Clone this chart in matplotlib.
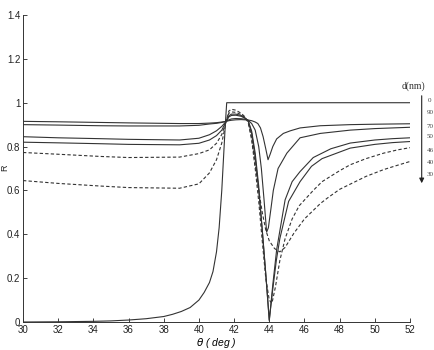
import matplotlib
matplotlib.use("Agg")
import matplotlib.pyplot as plt

# reflectivity curves, d = film thickness (nm)
left_x = [30, 32, 34.4, 36, 38.9, 40, 40.6, 41.0, 41.3, 41.55,
          41.7, 41.85, 42.1, 42.4, 42.6, 42.8]

x_d0 = [30, 32, 34, 35, 36, 37, 38, 38.5, 39, 39.5, 40, 40.3, 40.6, 40.8,
        41.0, 41.15, 41.3, 41.4, 41.5, 41.58, 52]
r_d0 = [0.0, 0.001, 0.003, 0.005, 0.009, 0.015, 0.025, 0.035, 0.048, 0.066,
        0.1, 0.135, 0.18, 0.23, 0.32, 0.43, 0.6, 0.75, 0.9, 1.0, 1.0]

x_d90 = left_x + [43.0, 43.2, 43.35, 43.5, 43.65, 43.8, 43.93, 44.05, 44.2,
                  44.42, 44.8, 45.2, 45.75, 46.9, 48.6, 50.0, 52]
r_d90 = [0.915, 0.913, 0.91, 0.908, 0.905, 0.905, 0.907, 0.909, 0.912, 0.915,
         0.918, 0.92, 0.922, 0.923, 0.922, 0.921,
         0.918, 0.912, 0.905, 0.885, 0.845, 0.79, 0.74, 0.765, 0.8,
         0.835, 0.86, 0.872, 0.885, 0.895, 0.9, 0.902, 0.904]

x_d70 = left_x + [43.0, 43.2, 43.4, 43.55, 43.7, 43.85, 43.95, 44.1, 44.23,
                  44.5, 45.0, 45.75, 46.9, 48.6, 50, 52]
r_d70 = [0.90, 0.898, 0.895, 0.894, 0.894, 0.897, 0.903, 0.906, 0.91, 0.915,
         0.922, 0.926, 0.928, 0.927, 0.925, 0.92,
         0.905, 0.875, 0.8, 0.7, 0.56, 0.41, 0.43, 0.52, 0.6,
         0.7, 0.77, 0.84, 0.86, 0.875, 0.882, 0.888]

x_d50 = left_x + [43.0, 43.2, 43.4, 43.6, 43.8, 44.0, 44.2, 44.42, 44.9,
                  45.3, 45.75, 46.5, 47.5, 48.6, 50, 51, 52]
r_d50 = [0.845, 0.84, 0.836, 0.833, 0.83, 0.838, 0.854, 0.872, 0.892, 0.915,
         0.935, 0.942, 0.943, 0.938, 0.93, 0.918,
         0.87, 0.77, 0.62, 0.42, 0.22, 0.005, 0.17, 0.33, 0.557,
         0.64, 0.686, 0.75, 0.79, 0.816, 0.83, 0.836, 0.84]

x_d46 = left_x + [43.0, 43.2, 43.4, 43.6, 43.8, 44.0, 44.2, 44.4, 44.6,
                  45.1, 45.75, 46.4, 47.0, 48.6, 50, 51, 52]
r_d46 = [0.82, 0.817, 0.813, 0.81, 0.808, 0.815, 0.83, 0.85, 0.875, 0.915,
         0.94, 0.948, 0.948, 0.942, 0.932, 0.918,
         0.86, 0.75, 0.6, 0.42, 0.22, 0.01, 0.15, 0.28, 0.38,
         0.55, 0.64, 0.71, 0.745, 0.793, 0.81, 0.818, 0.823]

x_d40 = left_x + [43.0, 43.2, 43.4, 43.6, 43.8, 44.0, 44.15, 44.35, 44.6,
                  44.9, 45.3, 45.7, 46.5, 47.0, 48.0, 48.6, 49.5, 50.5, 51.3, 52]
r_d40 = [0.773, 0.765, 0.755, 0.75, 0.752, 0.768, 0.785, 0.815, 0.855, 0.915,
         0.952, 0.958, 0.956, 0.946, 0.934, 0.915,
         0.83, 0.7, 0.55, 0.37, 0.2, 0.1, 0.085, 0.16, 0.28,
         0.38, 0.47, 0.53, 0.6, 0.64, 0.69, 0.717, 0.745, 0.77, 0.785, 0.795]

x_d30 = left_x + [43.0, 43.2, 43.4, 43.6, 43.8, 44.0, 44.3, 44.6, 44.9,
                  45.4, 46.0, 46.9, 47.3, 48.0, 49.5, 50.5, 51.3, 52]
r_d30 = [0.645, 0.632, 0.62, 0.613, 0.61, 0.63, 0.68, 0.74, 0.816, 0.915,
         0.962, 0.97, 0.966, 0.952, 0.937, 0.91,
         0.84, 0.72, 0.6, 0.5, 0.42, 0.37, 0.335, 0.32, 0.34,
         0.405, 0.47, 0.54, 0.565, 0.605, 0.664, 0.695, 0.715, 0.732]

legend_labels = ["0", "90", "70", "50", "46", "40", "30"]
x_ticks = [30, 32, 34, 36, 38, 40, 42, 44, 46, 48, 50, 52]
y_ticks = [0, 0.2, 0.4, 0.6, 0.8, 1, 1.2, 1.4]
y_tick_labels = ["0", "0.2", "0.4", "0.6", "0.8", "1", "1.2", "1.4"]

plt.rcParams['font.family'] = ['Liberation Sans', 'DejaVu Sans']

fig = plt.figure(figsize=(4.35, 3.5), dpi=100)
ax = fig.add_axes([23 / 435, 1 - 322 / 350, (410 - 23) / 435, (322 - 15) / 350])

c = '#333333'
lw = 0.8
ax.plot(x_d0, r_d0, color=c, lw=lw)
ax.plot(x_d90, r_d90, color=c, lw=lw)
ax.plot(x_d70, r_d70, color=c, lw=lw)
ax.plot(x_d50, r_d50, color=c, lw=lw)
ax.plot(x_d46, r_d46, color=c, lw=lw)
ax.plot(x_d40, r_d40, color=c, lw=lw, ls=(0, (3, 2)))
ax.plot(x_d30, r_d30, color=c, lw=lw, ls=(0, (3, 2)))

ax.set_xlim(30, 52)
ax.set_ylim(0, 1.4)
ax.set_xticks(x_ticks)
ax.set_yticks(y_ticks)
ax.set_yticklabels(y_tick_labels)
ax.tick_params(direction='in', length=3, width=0.6, labelsize=7, pad=2, colors='#222222')
for s in ['top', 'right']:
    ax.spines[s].set_visible(False)
for s in ['left', 'bottom']:
    ax.spines[s].set_linewidth(0.7)
    ax.spines[s].set_color('#333333')

ax.set_xlabel(r'$\theta$ ( deg )', fontsize=7.5, style='italic', labelpad=1)
# y label sits at the far left edge, as in the original
fig.text(5 / 435, 1 - 168 / 350, 'R', fontsize=6.5, rotation=90,
         ha='center', va='center', color='#222222')

# legend to the right: d(nm) with thickness list and arrow
fig.text(413 / 435, 1 - 86 / 350, 'd(nm)', family=['Liberation Serif', 'DejaVu Serif'],
         fontsize=7, ha='center', va='center', color='#333333')
label_y = [101, 113, 126, 137, 150, 162, 174]
for lab, py in zip(legend_labels, label_y):
    fig.text(430 / 435, 1 - py / 350, lab, family=['Liberation Serif', 'DejaVu Serif'],
             fontsize=5, ha='center', va='center', color='#444444')
ax.annotate('', xy=(421.7 / 435, 1 - 186 / 350), xytext=(421.7 / 435, 1 - 93 / 350),
            xycoords='figure fraction', textcoords='figure fraction',
            arrowprops=dict(arrowstyle='-|>', color='#222222', lw=0.8, mutation_scale=7))

fig.savefig('out.png', dpi=100)
